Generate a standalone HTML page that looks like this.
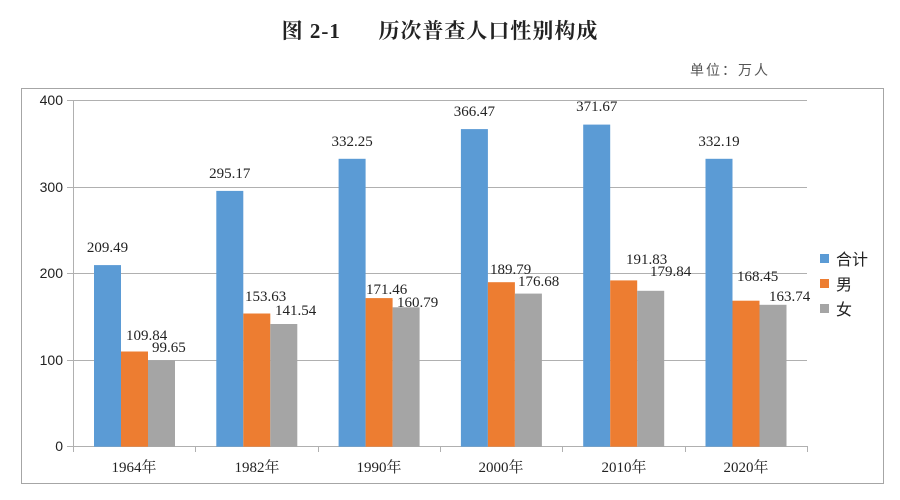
<!DOCTYPE html>
<html><head><meta charset="utf-8"><style>
body{margin:0;background:#fff;width:900px;height:500px;overflow:hidden}
svg{display:block}
</style></head><body>
<svg width="900" height="500" xmlns="http://www.w3.org/2000/svg" font-family="'Liberation Serif','Noto Serif CJK SC',serif">
<text x="440" y="38" text-anchor="middle" font-size="21" font-weight="bold" fill="#222" xml:space="preserve" letter-spacing="1">图 2-1      历次普查人口性别构成</text>
<text x="690" y="75" font-size="14" fill="#555" font-family="'Liberation Sans','Noto Sans CJK SC',sans-serif" letter-spacing="2">单位：万人</text>
<rect x="21.5" y="88.5" width="862" height="395" fill="#fff" stroke="#a6a6a6" stroke-width="1"/>
<g stroke="#b0b0b0" stroke-width="1">
<line x1="67" y1="100.5" x2="807" y2="100.5"/>
<line x1="67" y1="187.5" x2="807" y2="187.5"/>
<line x1="67" y1="273.5" x2="807" y2="273.5"/>
<line x1="67" y1="360.5" x2="807" y2="360.5"/>
<line x1="67" y1="446.5" x2="807" y2="446.5"/>
<line x1="73.5" y1="100" x2="73.5" y2="452"/>
<line x1="195.5" y1="446" x2="195.5" y2="452"/>
<line x1="318.5" y1="446" x2="318.5" y2="452"/>
<line x1="440.5" y1="446" x2="440.5" y2="452"/>
<line x1="562.5" y1="446" x2="562.5" y2="452"/>
<line x1="685.5" y1="446" x2="685.5" y2="452"/>
<line x1="807.5" y1="446" x2="807.5" y2="452"/>
</g>
<g font-size="14" fill="#222" text-anchor="end" font-family="'Liberation Sans',sans-serif">
<text x="63" y="105">400</text><text x="63" y="192">300</text><text x="63" y="278">200</text><text x="63" y="365">100</text><text x="63" y="451">0</text>
</g>
<g font-size="15" fill="#222" text-anchor="middle" font-family="'Liberation Serif','Noto Serif CJK SC',serif">
<text x="134" y="472">1964年</text><text x="257" y="472">1982年</text><text x="379" y="472">1990年</text><text x="501" y="472">2000年</text><text x="624" y="472">2010年</text><text x="746" y="472">2020年</text>
</g>
<rect x="820" y="254" width="9" height="9" fill="#5b9bd5"/>
<rect x="820" y="279" width="9" height="9" fill="#ed7d31"/>
<rect x="820" y="304" width="9" height="9" fill="#a5a5a5"/>
<g font-size="16" fill="#222" font-family="'Liberation Sans','Noto Sans CJK SC',sans-serif">
<text x="836" y="265">合计</text><text x="836" y="290">男</text><text x="836" y="315">女</text>
</g>
<g font-size="15" fill="#222" font-family="'Liberation Serif',serif">
<rect x="94" y="265.1" width="27" height="181.6" fill="#5b9bd5"/>
<rect x="121" y="351.5" width="27" height="95.2" fill="#ed7d31"/>
<rect x="148" y="360.3" width="27" height="86.4" fill="#a5a5a5"/>
<text x="107.5" y="252" text-anchor="middle">209.49</text>
<text x="126" y="340">109.84</text>
<text x="152" y="352">99.65</text>
<rect x="216.3" y="190.9" width="27" height="255.8" fill="#5b9bd5"/>
<rect x="243.3" y="313.5" width="27" height="133.2" fill="#ed7d31"/>
<rect x="270.3" y="324.0" width="27" height="122.7" fill="#a5a5a5"/>
<text x="229.8" y="178" text-anchor="middle">295.17</text>
<text x="245" y="301">153.63</text>
<text x="275" y="315">141.54</text>
<rect x="338.6" y="158.8" width="27" height="287.9" fill="#5b9bd5"/>
<rect x="365.6" y="298.1" width="27" height="148.6" fill="#ed7d31"/>
<rect x="392.6" y="307.3" width="27" height="139.4" fill="#a5a5a5"/>
<text x="352.1" y="146" text-anchor="middle">332.25</text>
<text x="366" y="294">171.46</text>
<text x="397" y="307">160.79</text>
<rect x="460.9" y="129.1" width="27" height="317.6" fill="#5b9bd5"/>
<rect x="487.9" y="282.2" width="27" height="164.5" fill="#ed7d31"/>
<rect x="514.9" y="293.6" width="27" height="153.1" fill="#a5a5a5"/>
<text x="474.4" y="116" text-anchor="middle">366.47</text>
<text x="490" y="274">189.79</text>
<text x="518" y="286">176.68</text>
<rect x="583.2" y="124.6" width="27" height="322.1" fill="#5b9bd5"/>
<rect x="610.2" y="280.4" width="27" height="166.3" fill="#ed7d31"/>
<rect x="637.2" y="290.8" width="27" height="155.9" fill="#a5a5a5"/>
<text x="596.7" y="111" text-anchor="middle">371.67</text>
<text x="626" y="264">191.83</text>
<text x="650" y="276">179.84</text>
<rect x="705.5" y="158.8" width="27" height="287.9" fill="#5b9bd5"/>
<rect x="732.5" y="300.7" width="27" height="146" fill="#ed7d31"/>
<rect x="759.5" y="304.8" width="27" height="141.9" fill="#a5a5a5"/>
<text x="719" y="146" text-anchor="middle">332.19</text>
<text x="737" y="281">168.45</text>
<text x="769" y="301">163.74</text>
</g>
</svg>
</body></html>
